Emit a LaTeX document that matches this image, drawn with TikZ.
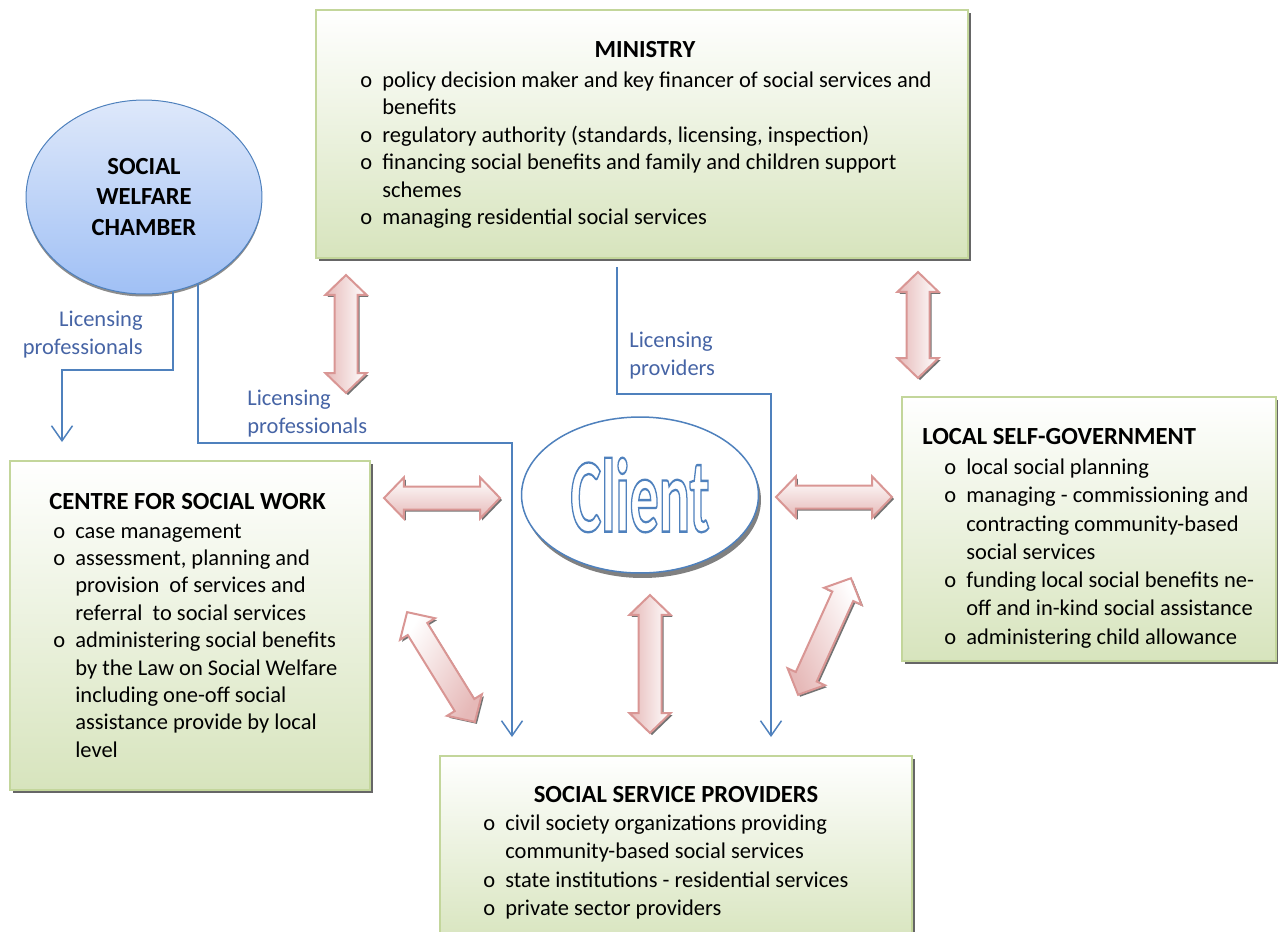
\documentclass[tikz,border=0pt]{standalone}
\usepackage{fontspec}
\setmainfont{Carlito}
\usetikzlibrary{shapes.geometric,shapes.arrows,shadows,arrows.meta}

\definecolor{boxline}{RGB}{195,214,155}
\definecolor{boxfill}{RGB}{215,228,189}
\definecolor{arrline}{RGB}{217,150,148}
\definecolor{arrfill}{RGB}{230,185,184}
\definecolor{linkblue}{RGB}{79,129,189}
\definecolor{textblue}{RGB}{70,100,165}
\definecolor{chambertop}{RGB}{222,232,250}
\definecolor{chamberbot}{RGB}{160,192,245}

\newcommand\bul{\makebox[0.44cm][l]{o}} % bullet of a list item
\newcommand\ind{\hspace*{0.44cm}} % continuation line
\newcommand\outlined[1]{\special{pdf:literal direct 1 Tr 1.3 w}#1%
  \special{pdf:literal direct 0 Tr}}

\tikzset{%
  >={Straight Barb[length=0.3cm,width=0.42cm]},
  greenbox/.style={draw=boxline,line width=0.04cm,top color=white,
    bottom color=boxfill,inner sep=0pt,
    drop shadow={shadow xshift=0.06cm,shadow yshift=-0.06cm,
      fill=black!60,opacity=1}},
  ttl/.style={inner sep=0pt,font=\fontsize{14}{17}\selectfont\bfseries},
  items/.style={anchor=north west,align=left,inner sep=0pt,
    font=\fontsize{12.8}{#1}\selectfont},
  items/.default=15.6,
  lbl/.style={align=left,inner sep=0pt,text=textblue,
    font=\fontsize{12.8}{15.9}\selectfont},
  link/.style={draw=linkblue,line width=0.03cm,->,shorten >=0.36cm},
  blockarrow/.style={double arrow,draw=arrline,line width=0.04cm,
    top color=white,bottom color=arrfill,minimum height=#1,
    minimum width=0.8cm,double arrow head extend=0.18cm,
    double arrow tip angle=92,inner xsep=0pt,inner ysep=0.21cm,
    drop shadow={shadow xshift=0.04cm,shadow yshift=-0.04cm,
      fill=black!55,opacity=1}},
  chamber/.style={ellipse,draw=linkblue,line width=0.02cm,
    top color=chambertop,bottom color=chamberbot,minimum width=4.72cm,
    minimum height=3.88cm,inner sep=0pt,align=center,
    font=\fontsize{14}{17.5}\selectfont\bfseries,
    drop shadow={shadow xshift=0cm,shadow yshift=-0.05cm,
      fill=black!45,opacity=1}},
  client/.style={ellipse,draw=linkblue,line width=0.03cm,fill=white,
    minimum width=4.74cm,minimum height=3.12cm,inner sep=0pt,text=linkblue,
    drop shadow={shadow xshift=0.05cm,shadow yshift=-0.1cm,
      fill=black!50,opacity=1}}
}

\begin{document}
\begin{tikzpicture}[x=0.02cm,y=-0.02cm]

\useasboundingbox (0,0) rectangle (1278,931);

%% boxes

\node[greenbox,minimum width=13.04cm,minimum height=4.96cm] (ministry) at (642,134) {};
\node[greenbox,minimum width=7.2cm,minimum height=6.58cm] (centre) at (190,625.5) {};
\node[greenbox,minimum width=7.48cm,minimum height=5.28cm] (localgov) at (1089,529) {};
\node[greenbox,minimum width=9.44cm,minimum height=3.8cm] (providers) at (676,851) {};

%% ellipses

\node[chamber] (chamber) at (144,197) {SOCIAL\\WELFARE\\CHAMBER};
\node[client] (client) at (640,495)
  {\scalebox{0.55}[1]{\fontsize{60}{60}\selectfont\bfseries\outlined{Client}}};

%% texts of the boxes

\node[ttl] (ministryttl) at (645,50) {MINISTRY};
\node[items] (ministrylst) at (360,71.5) {%
  \bul policy decision maker and key financer of social services and\\
  \ind benefits\\
  \bul regulatory authority (standards, licensing, inspection)\\
  \bul financing social benefits and family and children support\\
  \ind schemes\\
  \bul managing residential social services};

\node[ttl,anchor=west] (centrettl) at (49,502) {CENTRE FOR SOCIAL WORK};
\node[items] (centrelst) at (53,523.5) {%
  \bul case management\\
  \bul assessment, planning and\\
  \ind provision\ \ of services and\\
  \ind referral\ \ to social services\\
  \bul administering social benefits\\
  \ind by the Law on Social Welfare\\
  \ind including one-off social\\
  \ind assistance provide by local\\
  \ind level};

\node[ttl,anchor=west] (localgovttl) at (922,437) {LOCAL SELF-GOVERNMENT};
\node[items=16.1] (localgovlst) at (944,458.5) {%
  \bul local social planning\\
  \bul managing - commissioning and\\
  \ind contracting community-based\\
  \ind social services\\
  \bul funding local social benefits ne-\\
  \ind off and in-kind social assistance\\
  \bul administering child allowance};

\node[ttl] (providersttl) at (676,795) {SOCIAL SERVICE PROVIDERS};
\node[items=16.1] (providerslst) at (483,814.5) {%
  \bul civil society organizations providing\\
  \ind community-based social services\\
  \bul state institutions - residential services\\
  \bul private sector providers};

%% licensing lines

\coordinate (k1) at (62,370);
\coordinate (k2) at (512,443);
\coordinate (k3) at (617,394);
\coordinate (k4) at (771,394);
\draw[link] (chamber.-73) |- (k1) -- (k1 |- centre.north);
\draw[link] (chamber.-58) |- (k2) -- (k2 |- providers.north);
\draw[link,shorten <=0.16cm] (k3 |- ministry.south) -- (k3) -- (k4)
  -- (k4 |- providers.north);

\node[lbl,align=right,anchor=north east] (lic1) at (143,310.5) {Licensing\\professionals};
\node[lbl,anchor=north west] (lic2) at (247,389.5) {Licensing\\professionals};
\node[lbl,anchor=north west] (lic3) at (629,331.5) {Licensing\\providers};

%% block arrows

\node[blockarrow=2.36cm,rotate=90,shading angle=-90] (a1) at (346,334) {};
\node[blockarrow=2.12cm,rotate=90,shading angle=-90] (a2) at (918,325) {};
\node[blockarrow=2.32cm] (a3) at (442,498) {};
\node[blockarrow=2.32cm] (a4) at (834,497) {};
\node[blockarrow=2.76cm,rotate=90,shading angle=-90] (a5) at (650,664) {};
\node[blockarrow=2.58cm,rotate=-58.3,shading angle=58.3] (a6) at (441,667) {};
\node[blockarrow=2.56cm,rotate=65.6,shading angle=-65.6] (a7) at (824.5,636.5) {};

\end{tikzpicture}
\end{document}
